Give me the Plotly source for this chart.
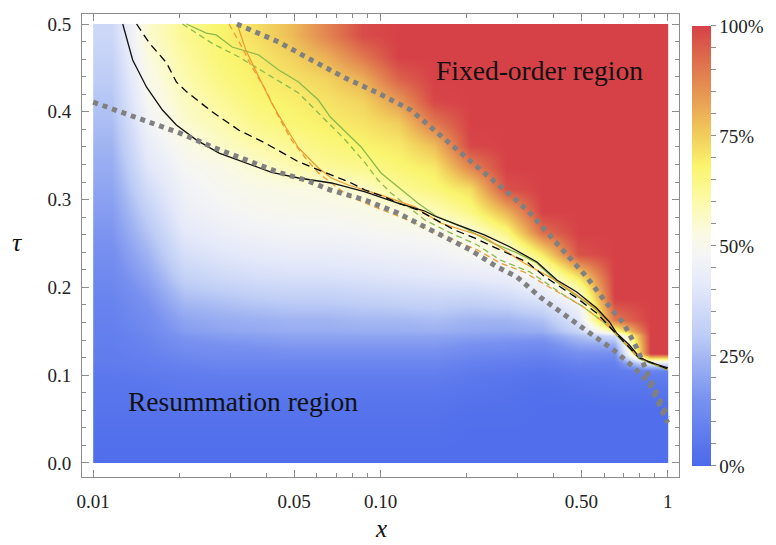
import plotly.graph_objects as go

# ---------------- heatmap data (percent), cell edges in x (log) and tau ----------------
x_edges = [0.01, 0.013335, 0.017783, 0.023714, 0.031623, 0.04217, 0.056234, 0.074989,
           0.1, 0.13335, 0.17783, 0.23714, 0.31623, 0.4217, 0.56234, 0.74989, 1.0]
tau_edges = [0.0, 0.025, 0.05, 0.075, 0.1, 0.11, 0.12, 0.13, 0.14, 0.15, 0.175, 0.2, 0.225,
             0.25, 0.275, 0.3, 0.325, 0.35, 0.375, 0.4, 0.425, 0.45, 0.475, 0.5]

# one list per x-column, values from tau=0 (bottom) to tau=0.5 (top)
col00 = [2, 3, 4, 5, 6, 7, 7, 8, 8, 9, 10, 12, 14, 16, 18, 20, 22, 24, 26, 28, 30, 32, 34]
col01 = [2, 3, 4, 5, 7, 8, 9, 10, 11, 13, 16, 20, 24, 28, 32, 36, 40, 43, 46, 49, 51, 53, 55]
col02 = [2, 3, 4, 6, 8, 10, 12, 14, 16, 20, 26, 32, 37, 41, 44, 46, 48, 51, 55, 57, 59, 61, 63]
col03 = [2, 3, 4, 6, 9, 11, 13, 15, 18, 22, 28, 35, 40, 44, 47, 49, 51, 56, 59, 62, 65, 67, 68]
col04 = [2, 3, 4, 6, 9, 11, 13, 16, 19, 23, 30, 37, 42, 46, 49, 51, 55, 60, 64, 67, 69, 70, 72]
col05 = [2, 3, 4, 6, 9, 11, 14, 17, 20, 24, 31, 38, 43, 47, 50, 52, 59, 63, 67, 69, 71, 74, 78]
col06 = [2, 3, 4, 6, 9, 11, 14, 17, 20, 24, 31, 38, 43, 47, 50, 53, 62, 66, 69, 71, 74, 80, 88]
col07 = [2, 3, 4, 6, 9, 11, 14, 17, 20, 25, 32, 39, 44, 48, 51, 56, 64, 68, 71, 74, 80, 90, 98]
col08 = [2, 3, 4, 6, 9, 11, 14, 17, 20, 25, 33, 40, 45, 49, 53, 62, 67, 70, 75, 84, 94, 100, 100]
col09 = [2, 3, 4, 6, 9, 11, 14, 17, 20, 26, 34, 41, 46, 50, 58, 66, 70, 78, 90, 99, 100, 100, 100]
col10 = [2, 2, 3, 5, 7, 9, 12, 15, 19, 24, 33, 42, 49, 53, 65, 72, 88, 99, 100, 100, 100, 100, 100]
col11 = [2, 2, 3, 4, 6, 8, 11, 14, 18, 24, 35, 44, 50, 65, 80, 97, 100, 100, 100, 100, 100, 100, 100]
col12 = [2, 2, 2, 3, 5, 7, 10, 13, 18, 27, 40, 50, 70, 92, 100, 100, 100, 100, 100, 100, 100, 100, 100]
col13 = [2, 2, 2, 4, 7, 10, 14, 20, 27, 40, 50, 72, 97, 100, 100, 100, 100, 100, 100, 100, 100, 100, 100]
col14 = [2, 2, 2, 5, 7, 9, 14, 22, 35, 90, 100, 100, 100, 100, 100, 100, 100, 100, 100, 100, 100, 100, 100]
col15 = [2, 2, 2, 5, 10, 45, 100, 100, 100, 100, 100, 100, 100, 100, 100, 100, 100, 100, 100, 100, 100, 100, 100]
columns = [col00, col01, col02, col03, col04, col05, col06, col07,
           col08, col09, col10, col11, col12, col13, col14, col15]
z = [[c[j] for c in columns] for j in range(len(tau_edges) - 1)]

# ---------------- curves ----------------
bs_x = [0.01267, 0.01372, 0.01534, 0.01742, 0.01947, 0.02284, 0.02743, 0.034, 0.0418, 0.05186,
        0.06745, 0.08843, 0.1149, 0.1425, 0.1543, 0.1853, 0.2298, 0.2826, 0.3504, 0.411,
        0.482, 0.565, 0.6266, 0.6626, 0.735, 0.7958, 0.861, 1.0]
bs_t = [0.5, 0.459, 0.428, 0.402, 0.385, 0.368, 0.353, 0.342, 0.331, 0.3246,
        0.3189, 0.3087, 0.2961, 0.287, 0.2813, 0.2711, 0.2597, 0.246, 0.2289, 0.2084,
        0.1948, 0.1765, 0.1606, 0.1481, 0.1344, 0.1207, 0.115, 0.1082]

bd_x = [0.01416, 0.0157, 0.01798, 0.01947, 0.0211, 0.02594, 0.03216, 0.03988, 0.05186, 0.06963,
        0.0791, 0.08843, 0.1036, 0.1149, 0.1348, 0.181, 0.2122, 0.261, 0.3236, 0.3705,
        0.482, 0.565, 0.6626, 0.7958, 1.0]
bd_t = [0.5, 0.478, 0.456, 0.434, 0.423, 0.4, 0.379, 0.364, 0.343, 0.3257,
        0.3189, 0.3109, 0.303, 0.2961, 0.2882, 0.2654, 0.2563, 0.2426, 0.2289, 0.213,
        0.188, 0.1708, 0.147, 0.1196, 0.107]

os_x = [0.0317, 0.034, 0.03771, 0.0418, 0.04676, 0.05186, 0.0608, 0.06745, 0.0772, 0.1004,
        0.1316, 0.1619, 0.2298, 0.316, 0.411, 0.565, 0.6626, 0.7958, 1.0]
os_t = [0.5, 0.47, 0.4396, 0.41, 0.3827, 0.3588, 0.336, 0.3246, 0.3166, 0.3052,
        0.2916, 0.2733, 0.2574, 0.2278, 0.2073, 0.1754, 0.1469, 0.1196, 0.1071]

od_x = [0.02971, 0.03294, 0.03567, 0.03988, 0.04422, 0.04902, 0.0548, 0.0608, 0.06745, 0.0772,
        0.0956, 0.1245, 0.1543, 0.2174, 0.261, 0.316, 0.3705, 0.5086, 0.5965, 0.6626,
        0.7958, 1.0]
od_t = [0.5, 0.4738, 0.451, 0.4248, 0.394, 0.3679, 0.3474, 0.3303, 0.3189, 0.3041,
        0.2916, 0.2768, 0.2631, 0.2426, 0.2278, 0.2175, 0.2039, 0.1777, 0.1606, 0.1469,
        0.1196, 0.1071]

gs_x = [0.0211, 0.02475, 0.0268, 0.03045, 0.03771, 0.04422, 0.05186, 0.0608, 0.0669, 0.0856,
        0.1004, 0.1149, 0.1348, 0.158, 0.1959, 0.2411, 0.2988, 0.3504, 0.411, 0.565,
        0.6626, 0.7958, 1.0]
gs_t = [0.5, 0.4897, 0.4875, 0.4738, 0.4647, 0.4476, 0.4339, 0.4134, 0.394, 0.36,
        0.3303, 0.3144, 0.2961, 0.2802, 0.2677, 0.2517, 0.2392, 0.2278, 0.2062, 0.1743,
        0.1458, 0.1185, 0.1059]

gd_x = [0.02045, 0.02594, 0.03216, 0.03988, 0.05186, 0.0608, 0.0754, 0.08843, 0.098, 0.1087,
        0.1245, 0.1425, 0.1753, 0.2174, 0.261, 0.3314, 0.4345, 0.5086, 0.5965, 0.6626,
        0.7958, 1.0]
gd_t = [0.5, 0.478, 0.4624, 0.4442, 0.4214, 0.3986, 0.3679, 0.3417, 0.3223, 0.3075,
        0.2916, 0.2768, 0.262, 0.2483, 0.2312, 0.2175, 0.1913, 0.1777, 0.1606, 0.1469,
        0.1196, 0.1059]

up_x = [0.03165, 0.04422, 0.0575, 0.0754, 0.098, 0.1275, 0.1853, 0.2549, 0.2917, 0.3314,
        0.4448, 0.5219, 0.6118, 0.7005, 0.7769, 0.861, 1.0]
up_t = [0.5, 0.4795, 0.459, 0.4385, 0.4214, 0.402, 0.3565, 0.3189, 0.3018, 0.2847,
        0.2369, 0.2118, 0.1822, 0.1595, 0.1321, 0.098, 0.052]

lo_x = [0.01, 0.0134, 0.01994, 0.02594, 0.034, 0.04422, 0.0548, 0.0669, 0.08843, 0.1149,
        0.1495, 0.1753, 0.2056, 0.2549, 0.2988, 0.3589, 0.4448, 0.5345, 0.6471, 0.7588,
        0.861, 1.0]
lo_t = [0.411, 0.396, 0.376, 0.36, 0.345, 0.331, 0.3223, 0.3109, 0.2995, 0.2847,
        0.2654, 0.254, 0.2426, 0.2232, 0.2118, 0.1891, 0.1663, 0.1481, 0.1287, 0.1093,
        0.091, 0.0456]

# ---------------- ticks ----------------
x_tickvals = [0.01, 0.05, 0.1, 0.5, 1]
x_ticktext = ["0.01", "0.05", "0.10", "0.50", "1"]
x_minor = [0.02, 0.03, 0.04, 0.06, 0.07, 0.08, 0.09, 0.2, 0.3, 0.4, 0.6, 0.7, 0.8, 0.9]
y_tickvals = [0.0, 0.1, 0.2, 0.3, 0.4, 0.5]
y_ticktext = ["0.0", "0.1", "0.2", "0.3", "0.4", "0.5"]
cb_tickvals = list(range(0, 101, 5))
cb_ticktext = [f"{v}%" if v % 25 == 0 else "" for v in cb_tickvals]

FONT = "Liberation Serif"
TICKC = "#8c8c8c"

colorscale = [
    [0.00, "rgb(75,105,235)"],
    [0.15, "rgb(120,145,240)"],
    [0.24, "rgb(160,180,242)"],
    [0.30, "rgb(190,205,246)"],
    [0.41, "rgb(228,233,250)"],
    [0.48, "rgb(245,245,245)"],
    [0.53, "rgb(250,250,225)"],
    [0.60, "rgb(252,250,170)"],
    [0.68, "rgb(250,245,110)"],
    [0.76, "rgb(240,200,90)"],
    [0.83, "rgb(232,160,85)"],
    [0.94, "rgb(220,100,75)"],
    [1.00, "rgb(214,65,72)"],
]

fig = go.Figure()
fig.add_trace(go.Heatmap(
    x=x_edges, y=tau_edges, z=z, zmin=0, zmax=100, zsmooth="best",
    colorscale=colorscale, hoverinfo="skip",
    colorbar=dict(
        x=1.0216, xanchor="left", xpad=0, ypad=0,
        y=0.499, yanchor="middle",
        thickness=19, thicknessmode="pixels",
        len=440, lenmode="pixels",
        outlinewidth=0,
        ticks="outside", ticklen=5, tickcolor=TICKC,
        tickvals=cb_tickvals, ticktext=cb_ticktext,
        tickfont=dict(family=FONT, size=19, color="#222"),
    ),
))

GREEN = "rgb(140,185,75)"
ORANGE = "rgb(236,155,50)"
curves = [
    (gs_x, gs_t, GREEN, "solid", 1.3),
    (gd_x, gd_t, GREEN, "6px,4px", 1.3),
    (os_x, os_t, ORANGE, "solid", 1.3),
    (od_x, od_t, ORANGE, "6px,4px", 1.3),
    (bd_x, bd_t, "black", "8px,5px", 1.3),
    (bs_x, bs_t, "#111111", "solid", 1.3),
    (up_x, up_t, "rgb(128,128,128)", "5px,5px", 5),
    (lo_x, lo_t, "rgb(128,128,128)", "5px,5px", 5),
]
for cx, ct, col, dash, w in curves:
    fig.add_trace(go.Scatter(x=cx, y=ct, mode="lines",
                             line=dict(color=col, dash=dash, width=w),
                             hoverinfo="skip", showlegend=False))

fig.update_layout(
    width=776, height=545,
    margin=dict(l=82, r=93, t=14, b=68),
    paper_bgcolor="white", plot_bgcolor="white",
    showlegend=False,
    font=dict(family=FONT, color="#222"),
    xaxis=dict(
        type="log", range=[-2.039, 0.039],
        showgrid=False, zeroline=False,
        showline=True, linecolor=TICKC, linewidth=1, mirror="ticks",
        ticks="inside", ticklen=7, tickcolor=TICKC,
        tickmode="array", tickvals=x_tickvals, ticktext=x_ticktext,
        tickfont=dict(family=FONT, size=19, color="#222"),
        ticklabelstandoff=7,
        minor=dict(tickmode="array", tickvals=x_minor, ticks="inside",
                   ticklen=4, tickcolor=TICKC, showgrid=False),
    ),
    yaxis=dict(
        range=[-0.016, 0.5114],
        showgrid=False, zeroline=False,
        showline=True, linecolor=TICKC, linewidth=1, mirror="ticks",
        ticks="inside", ticklen=7, tickcolor=TICKC,
        tickmode="array", tickvals=y_tickvals, ticktext=y_ticktext,
        tickfont=dict(family=FONT, size=19, color="#222"),
        ticklabelstandoff=6,
        minor=dict(dtick=0.02, tick0=0, ticks="inside", ticklen=4,
                   tickcolor=TICKC, showgrid=False),
    ),
    annotations=[
        dict(text="Fixed-order region", x=0.767, y=0.879, xref="paper", yref="paper",
             xanchor="center", yanchor="middle",
             showarrow=False, font=dict(family=FONT, size=27.5, color="#111")),
        dict(text="Resummation region", x=0.2696, y=0.162, xref="paper", yref="paper",
             xanchor="center", yanchor="middle",
             showarrow=False, font=dict(family=FONT, size=27.5, color="#111")),
        dict(text="<i>x</i>", x=0.5008, y=-0.111, xref="paper", yref="paper",
             xanchor="center", yanchor="middle",
             showarrow=False, font=dict(family=FONT, size=25, color="#111")),
        dict(text="<i>τ</i>", x=-0.108, y=0.5054, xref="paper", yref="paper",
             xanchor="center", yanchor="middle",
             showarrow=False, font=dict(family=FONT, size=26, color="#111")),
    ],
)

fig.write_html("out.html")
